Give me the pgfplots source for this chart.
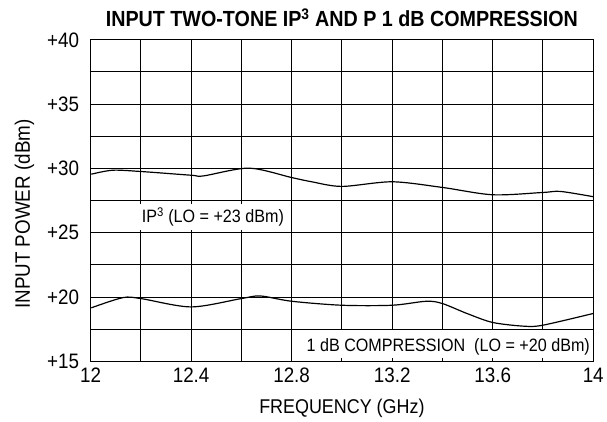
\documentclass[border=0pt]{standalone}
\usepackage{pgfplots}
\pgfplotsset{compat=1.18}
\usepackage{fontspec}
\setmainfont{Liberation Sans}[FakeStretch=0.9]
\begin{document}
\begin{tikzpicture}
\begin{axis}[
  scale only axis,
  width=505pt, height=323pt,
  xmin=12, xmax=14, ymin=15, ymax=40,
  xtick={12,12.4,12.8,13.2,13.6,14},
  xticklabels={12,12.4,12.8,13.2,13.6,14},
  minor xtick={12.2,12.6,13.0,13.4,13.8},
  ytick={15,20,25,30,35,40},
  yticklabels={+15,+20,+25,+30,+35,+40},
  minor ytick={17.5,22.5,27.5,32.5,37.5},
  grid=both,
  major grid style={black, line width=1pt},
  minor grid style={black, line width=1pt},
  axis line style={black, line width=1.3pt},
  major tick length=0pt, minor tick length=0pt,
  /pgf/number format/assume math mode=true,
  tick label style={font=\fontsize{21}{24}\selectfont},
  yticklabel style={xshift=-8pt},
  xticklabel style={yshift=-3pt},
  clip=false,
]
\addplot[black, line width=1.2pt, smooth, tension=0.5] coordinates {
(12.003,29.55) (12.088,29.86) (12.2,29.76) (12.4,29.47) (12.45,29.42)
(12.63,30.02) (12.8,29.29) (12.88,28.96) (13.0,28.6) (13.2,28.96)
(13.4,28.52) (13.6,27.95) (13.8,28.13) (13.87,28.21) (14.0,27.8)};
\addplot[black, line width=1.2pt, smooth, tension=0.5] coordinates {
(12.003,19.16) (12.128,19.95) (12.2,19.88) (12.4,19.23) (12.6,19.88)
(12.676,20.08) (12.8,19.67) (13.0,19.36) (13.2,19.36) (13.336,19.67)
(13.4,19.49) (13.5,18.7) (13.6,18.02) (13.725,17.73) (13.8,17.81) (14.0,18.72)};
\fill[white] (axis cs:12.19,27.27) rectangle (axis cs:12.785,25.18);
\fill[white] (axis cs:12.806,17.4) rectangle (axis cs:13.994,15.23);
\node[anchor=base west, inner sep=0pt, font=\fontsize{18}{21}\selectfont]
  at (axis cs:12.203,25.76) {IP\textsuperscript{3} (LO = +23 dBm)};
\node[anchor=base west, inner sep=0pt, font=\fontsize{18}{21}\selectfont]
  at (axis cs:12.859,15.75) {1 dB COMPRESSION\ \ (LO = +20 dBm)};
\node[anchor=base, inner sep=0pt, font=\bfseries\fontsize{22}{25}\selectfont]
  at ([yshift=13pt]rel axis cs:0.5,1) {INPUT TWO-TONE IP\textsuperscript{3} AND P 1 dB COMPRESSION};
\node[anchor=base, inner sep=0pt, font=\fontsize{20}{24}\selectfont]
  at ([yshift=-52pt]rel axis cs:0.5,0) {FREQUENCY (GHz)};
\node[anchor=base, rotate=90, inner sep=0pt, font=\fontsize{21}{24}\selectfont]
  at ([xshift=-61pt]rel axis cs:0,0.458) {INPUT POWER (dBm)};
\coordinate (sw) at (rel axis cs:0,0);
\end{axis}
\path (sw) ++(-91pt,-60pt) rectangle ++(607pt,423pt);
\end{tikzpicture}
\end{document}
